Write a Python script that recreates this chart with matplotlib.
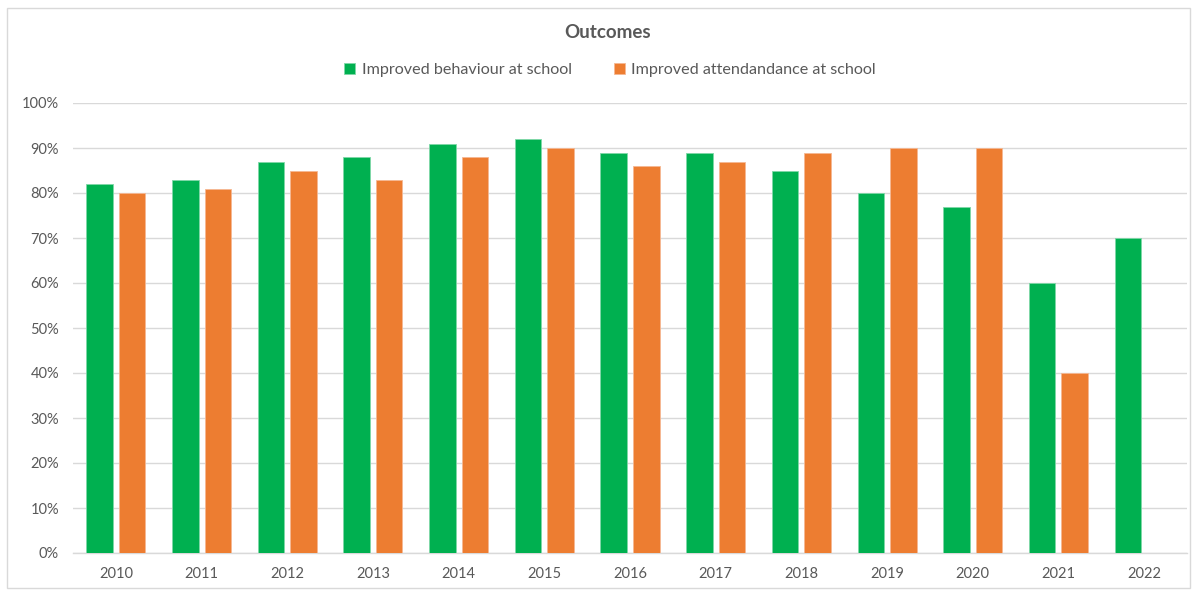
import matplotlib
matplotlib.use("Agg")
import matplotlib.pyplot as plt
import numpy as np
from matplotlib.patches import Rectangle, Patch

years = ["2010", "2011", "2012", "2013", "2014", "2015", "2016",
         "2017", "2018", "2019", "2020", "2021", "2022"]
behaviour = [82, 83, 87, 88, 91, 92, 89, 89, 85, 80, 77, 60, 70]
attendance = [80, 81, 85, 83, 88, 90, 86, 87, 89, 90, 90, 40, np.nan]
series_names = ["Improved behaviour at school", "Improved attendandance at school"]
colors = ["#00B050", "#ED7D31"]
yticks = [0, 10, 20, 30, 40, 50, 60, 70, 80, 90, 100]
title = "Outcomes"

plt.rcParams['font.family'] = ['Lato', 'DejaVu Sans']
text_color = "#595959"

fig = plt.figure(figsize=(11.96, 5.90), dpi=100)
ax = fig.add_axes([73/1196, 1 - 553/590, (1187 - 73)/1196, (553 - 103)/590])

x = np.arange(len(years))
w = 0.31
gap = 0.07
off = (w + gap) / 2
ax.bar(x - off, behaviour, width=w, color=colors[0], edgecolor="#7FD8A8", linewidth=0.6, zorder=3)
ax.bar(x + off, attendance, width=w, color=colors[1], edgecolor="#F5B893", linewidth=0.6, zorder=3)

ax.set_xlim(-0.5, len(years) - 0.5)
ax.set_ylim(0, 100)
ax.set_yticks(yticks)
ax.set_yticklabels([f"{t}%" for t in yticks])
ax.set_xticks(x)
ax.set_xticklabels(years)
ax.yaxis.grid(True, color="#D9D9D9", linewidth=1.0, zorder=0)
ax.set_axisbelow(True)
for s in ["top", "right", "left"]:
    ax.spines[s].set_visible(False)
ax.spines["bottom"].set_color("#D9D9D9")
ax.spines["bottom"].set_linewidth(1.0)
ax.tick_params(axis="both", length=0, colors=text_color, labelsize=10.5)
ax.tick_params(axis="x", pad=10)
ax.tick_params(axis="y", pad=10)

fig.text(608/1196, 1 - 33/590, title, ha="center", va="center",
         fontsize=13.5, fontweight="bold", color=text_color)

handles = [Patch(facecolor=colors[0], edgecolor="#7FD8A8", linewidth=0.6),
           Patch(facecolor=colors[1], edgecolor="#F5B893", linewidth=0.6)]
leg = fig.legend(handles, series_names, loc="center", bbox_to_anchor=(610/1196, 1 - 70/590),
                 ncol=2, frameon=False, fontsize=11.6, handlelength=0.7, handleheight=0.7,
                 handletextpad=0.4, columnspacing=2.6)
for t in leg.get_texts():
    t.set_color(text_color)

fig.patches.append(Rectangle((7/1196, 1 - 588/590), (1190 - 7)/1196, (588 - 8)/590,
                             transform=fig.transFigure, fill=False,
                             edgecolor="#D9D9D9", linewidth=1.0))

fig.savefig("out.png", dpi=100)
